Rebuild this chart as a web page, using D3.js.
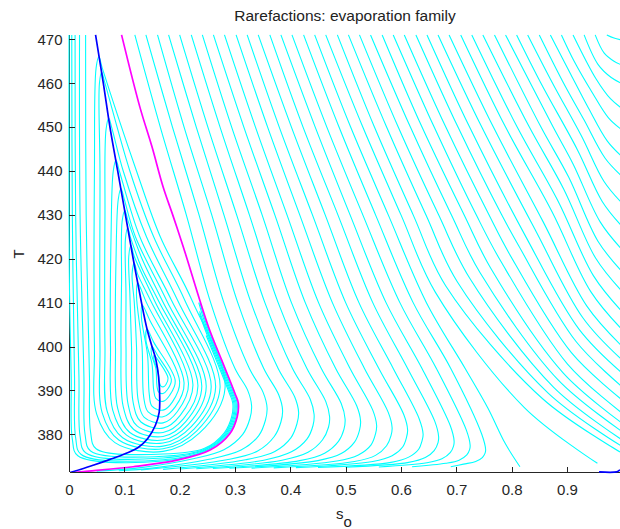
<!DOCTYPE html>
<html>
<head>
<meta charset="utf-8">
<script src="https://d3js.org/d3.v7.min.js"></script>
<style>
  body { margin: 0; background: #fff; }
  svg { display: block; font-family: "Liberation Sans", Arial, sans-serif; }
</style>
</head>
<body>
<svg id="chart" width="620" height="529"></svg>
<script>
// ticks
var xTicks = [0, 0.1, 0.2, 0.3, 0.4, 0.5, 0.6, 0.7, 0.8, 0.9];
var yTicks = [380, 390, 400, 410, 420, 430, 440, 450, 460, 470];

// [s_o, T] points
var magentaCurve = [[0.095,471],[0.128,454.6],[0.150,445.5],[0.170,436.4],[0.1885,429.6],[0.2066,422.7],[0.214,419.7],
  [0.252,404.5],[0.276,396.9],[0.300,389.3],[0.306,387.1],[0.304,384.0],[0.291,380.2],[0.255,376.4],[0.195,374.1],
  [0.116,372.6],[0.026,371.5],[0.002,371.2]];

var blueCurve = [[0.048,471],[0.062,460],[0.074,450],[0.088,440],[0.102,430],[0.116,420],[0.131,410],[0.141,404],
  [0.150,400],[0.157,397],[0.162,393],[0.164,388],[0.163,385],[0.156,382],[0.142,379],[0.125,377],[0.110,376],
  [0.090,375],[0.068,374],[0.045,373],[0.026,372.2],[0.002,371.3]];
var blueTail = [[0.958,371.42],[0.99,371.45],[0.995,371.8],[1.0,372.0]];

// outer curves inside the magenta one (left legs reach the top)
var openCurves = [
  [[0.0,471],[0.0,430],[0.001,412],[0.004,393],[0.006,378.9],[0.016,375.1],[0.17,373.9],[0.253,376.48],[0.289,380.24],[0.302,384.0],[0.304,387.1],[0.298,389.3],[0.274,396.9],[0.250,404.5],[0.2365,410]],
  [[0.005,471],[0.006,430],[0.010,393],[0.012,379.2],[0.022,375.4],[0.17,374.2],[0.251,376.56],[0.287,380.28],[0.300,384.0],[0.302,387.1],[0.296,389.3],[0.272,396.9],[0.248,404.5],[0.2345,410]],
  [[0.011,471],[0.012,430],[0.018,393],[0.020,379.6],[0.030,375.8],[0.17,374.6],[0.249,376.64],[0.285,380.32],[0.298,384.0],[0.300,387.1],[0.294,389.3],[0.270,396.9],[0.246,404.5],[0.236,408]],
  [[0.019,471],[0.020,430],[0.027,393],[0.029,380.0],[0.039,376.2],[0.17,375.0],[0.247,376.72],[0.283,380.36],[0.296,384.0],[0.298,387.1],[0.292,389.3],[0.268,396.9],[0.244,404.5],[0.236,407.5]],
  [[0.030,471],[0.031,430],[0.037,393],[0.039,380.5],[0.049,376.7],[0.17,375.5],[0.245,376.8],[0.281,380.4],[0.294,384.0],[0.296,387.1],[0.290,389.3],[0.266,396.9],[0.248,402.5]]
];

// nested loops, apex on the blue curve
var loopCurves = [
  [[0.054,466],[0.060,463.5],[0.122,440],[0.165,425],[0.222,410.6],[0.282,390.5],[0.236,380.3],[0.17,376.1],[0.083,378.1],[0.050,384.6],[0.046,400],[0.046,440],[0.049,463.5]],
  [[0.059,462.5],[0.065,460],[0.110,440],[0.153,425],[0.209,410.6],[0.273,390.6],[0.231,380.8],[0.17,376.7],[0.090,378.7],[0.060,384.9],[0.056,400],[0.056,440],[0.055,460]],
  [[0.072,452],[0.078,449.5],[0.098,440],[0.140,425],[0.196,410.6],[0.265,390.7],[0.226,381.2],[0.17,377.3],[0.097,379.2],[0.069,385.2],[0.065,400],[0.065,430],[0.067,449.5]],
  [[0.085,442.5],[0.091,440],[0.128,425],[0.185,410.6],[0.257,390.8],[0.221,381.75],[0.17,378.0],[0.104,379.8],[0.079,385.5],[0.075,400],[0.076,425],[0.080,440]],
  [[0.094,436],[0.100,433.5],[0.120,425],[0.176,410.6],[0.248,390.9],[0.216,382.3],[0.17,378.7],[0.110,380.4],[0.088,385.9],[0.084,400],[0.085,420],[0.089,433.5]],
  [[0.101,431],[0.107,428.5],[0.132,420],[0.168,410.6],[0.240,391.0],[0.211,382.9],[0.17,379.5],[0.117,381.1],[0.098,386.3],[0.094,400],[0.095,415],[0.096,428.5]],
  [[0.106,427],[0.112,424.5],[0.131,418],[0.161,410.6],[0.233,391.1],[0.207,383.55],[0.17,380.4],[0.123,381.9],[0.107,386.7],[0.103,400],[0.103,412],[0.102,424.5]],
  [[0.112,423],[0.118,420.5],[0.154,410.6],[0.224,391.3],[0.201,384.3],[0.17,381.4],[0.130,382.8],[0.116,387.2],[0.113,400],[0.110,412],[0.108,420.5]],
  [[0.118,419],[0.124,416.5],[0.147,410.6],[0.216,391.5],[0.196,385.2],[0.17,382.6],[0.136,383.85],[0.125,387.8],[0.122,400],[0.118,410],[0.114,416.5]],
  [[0.124,414.5],[0.140,410],[0.208,391.7],[0.192,386.25],[0.17,384.0],[0.143,385.1],[0.135,388.5],[0.132,400],[0.122,411.5]],
  [[0.132,409.5],[0.146,406],[0.200,391.9],[0.187,387.4],[0.17,385.5],[0.150,386.4],[0.145,389.2],[0.142,398],[0.131,406.5]],
  [[0.141,404],[0.153,401],[0.192,392.2],[0.182,388.9],[0.17,387.5],[0.157,388.2],[0.153,390.2],[0.150,396],[0.139,401.5]],
  [[0.150,400],[0.160,398],[0.185,392.5],[0.178,390.2],[0.17,389.3],[0.162,389.6],[0.159,391],[0.157,395],[0.149,398.3]],
  [[0.154,398],[0.163,396.5],[0.179,392.8],[0.175,391.3],[0.17,390.8],[0.166,391.0],[0.163,392],[0.161,394.5],[0.154,396.7]]
];

// curves from the top that turn back left along the bottom
var fanCurves = [
  [[0.119,471],[0.165,450],[0.212,430],[0.256,410],[0.300,395],[0.323,390],[0.330,386.5],[0.327,383.6],[0.314,380.0],[0.280,376.5],[0.220,374.3],[0.13,372.4],[0.05,371.6]],
  [[0.139,471],[0.187,450],[0.235,430],[0.280,410],[0.326,395],[0.351,389.5],[0.358,386.0],[0.355,383.2],[0.343,379.7],[0.311,376.4],[0.253,374.3],[0.15,372.3],[0.09,371.7]],
  [[0.160,471],[0.208,450],[0.258,430],[0.305,410],[0.352,395],[0.379,389],[0.386,385.5],[0.383,382.8],[0.371,379.5],[0.341,376.2],[0.285,374.2],[0.13,371.9]],
  [[0.180,471],[0.230,450],[0.280,430],[0.329,410],[0.378,395],[0.408,388.5],[0.415,385.0],[0.412,382.4],[0.401,379.2],[0.372,376.1],[0.319,374.2],[0.17,372.0]],
  [[0.200,471],[0.251,450],[0.303,430],[0.354,410],[0.404,395],[0.436,388],[0.443,384.5],[0.441,382.0],[0.430,378.9],[0.402,376.0],[0.352,374.1],[0.20,372.1]],
  [[0.221,471],[0.273,450],[0.326,430],[0.378,410],[0.430,395],[0.464,387.5],[0.471,384.0],[0.469,381.6],[0.458,378.7],[0.432,375.9],[0.385,374.1],[0.23,372.15]],
  [[0.241,471],[0.294,450],[0.349,430],[0.402,410],[0.456,395],[0.492,387],[0.499,383.5],[0.497,381.2],[0.487,378.4],[0.462,375.7],[0.417,374.0],[0.26,372.2]],
  [[0.261,471],[0.316,450],[0.372,430],[0.427,410],[0.482,395],[0.520,386.5],[0.527,383.0],[0.525,380.9],[0.516,378.2],[0.492,375.6],[0.450,374.0],[0.29,372.25]],
  [[0.281,471],[0.337,450],[0.394,430],[0.451,410],[0.508,395],[0.549,385.5],[0.556,382.0],[0.554,380.1],[0.546,377.6],[0.523,375.3],[0.484,373.9],[0.33,372.3]],
  [[0.302,471],[0.359,450],[0.417,430],[0.476,410],[0.534,395],[0.577,385],[0.584,381.5],[0.582,379.7],[0.574,377.4],[0.554,375.2],[0.516,373.8],[0.37,372.35]],
  [[0.322,471],[0.380,450],[0.440,430],[0.500,410],[0.560,395],[0.605,384.5],[0.612,381.0],[0.610,379.3],[0.603,377.1],[0.584,375.1],[0.549,373.8],[0.41,372.4]],
  [[0.342,471],[0.402,450],[0.463,430],[0.524,410],[0.586,395],[0.633,383.5],[0.640,380.0],[0.638,378.5],[0.632,376.6],[0.614,374.8],[0.582,373.6],[0.45,372.45]],
  [[0.363,471],[0.423,450],[0.486,430],[0.549,410],[0.612,395],[0.661,383],[0.668,379.5],[0.667,378.1],[0.660,376.3],[0.644,374.7],[0.614,373.6],[0.50,372.5]],
  [[0.383,471],[0.445,450],[0.508,430],[0.573,410],[0.638,395],[0.689,382],[0.696,378.5],[0.695,377.3],[0.689,375.8],[0.674,374.4],[0.647,373.5],[0.56,372.55]],
  [[0.403,471],[0.466,450],[0.531,430],[0.598,410],[0.664,395],[0.718,381],[0.725,377.5],[0.724,376.5],[0.719,375.3],[0.705,374.1],[0.681,373.4],[0.62,372.6]],
  [[0.424,471],[0.488,450],[0.554,430],[0.622,410],[0.690,395],[0.746,380],[0.753,376.5],[0.752,375.7],[0.747,374.7],[0.735,373.8],[0.713,373.2],[0.69,372.6]]
];

var separatrix = [[0.444,471],[0.509,450],[0.577,430],[0.646,410],[0.716,395],[0.757,386],[0.788,378],[0.815,372.6]];

// curves from the top that bend to the right edge
var exitCurves = [
  [[0.464,471],[0.531,450],[0.600,430],[0.662,412.4],[0.823,386.1],[0.955,373.4]],
  [[0.485,471],[0.552,450],[0.622,430],[0.681,413.8],[0.856,388.1],[1.0,375.7]],
  [[0.505,471],[0.574,450],[0.645,430],[0.702,414.7],[0.866,389.4],[1.0,377.2]],
  [[0.525,471],[0.595,450],[0.668,430],[0.724,415.6],[0.876,390.7],[1.0,378.7]],
  [[0.545,471],[0.617,450],[0.691,430],[0.743,416.8],[0.884,392.4],[1.0,380.6]],
  [[0.566,471],[0.638,450],[0.714,430],[0.762,417.9],[0.893,394.0],[1.0,382.5]],
  [[0.586,471],[0.660,450],[0.736,430],[0.781,419.3],[0.901,396.0],[1.0,384.8]],
  [[0.606,471],[0.681,450],[0.759,430],[0.796,421.1],[0.908,398.6],[1.0,387.8]],
  [[0.627,471],[0.703,450],[0.782,430],[0.813,422.9],[0.916,401.2],[1.0,390.8]],
  [[0.647,471],[0.724,450],[0.827,424.7],[0.922,403.9],[1.0,393.9]],
  [[0.667,471],[0.746,450],[0.843,426.5],[0.929,406.5],[1.0,396.9]],
  [[0.687,471],[0.767,450],[0.857,428.4],[0.936,409.2],[1.0,400.0]],
  [[0.708,471],[0.789,450],[0.873,430.7],[0.943,412.5],[1.0,403.8]],
  [[0.728,471],[0.810,450],[0.884,433.1],[0.948,416.1],[1.0,407.9]],
  [[0.748,471],[0.832,450],[0.894,435.9],[0.952,420.1],[1.0,412.5]],
  [[0.769,471],[0.853,450],[0.903,438.6],[0.956,424.0],[1.0,417.0]],
  [[0.789,471],[0.875,450],[0.911,441.6],[0.960,428.4],[1.0,422.0]],
  [[0.809,471],[0.853,460],[0.919,444.8],[0.964,433.0],[1.0,427.3]],
  [[0.829,471],[0.874,460],[0.926,448.0],[0.967,437.6],[1.0,432.6]],
  [[0.850,471],[0.894,460],[0.931,451.6],[0.969,442.9],[1.0,438.7]],
  [[0.870,471],[0.907,462],[0.939,454.3],[0.973,446.8],[1.0,443.2]],
  [[0.890,471],[0.913,465],[0.945,458.0],[0.975,452.1],[1.0,449.3]],
  [[0.911,471],[0.953,460.9],[0.979,456.4],[1.0,454.2]],
  [[0.931,471],[0.956,464.3],[0.980,461.3],[1.0,459.9]],
  [[0.951,471],[0.967,466.9],[0.985,465.0],[1.0,464.1]],
  [[0.972,471],[0.985,470.3],[1.0,469.8]]
];

var svg = d3.select('#chart');
var x = d3.scaleLinear().domain([0, 1]).range([69, 622.3]);
var y = d3.scaleLinear().domain([371.34, 470.98]).range([472.3, 35]);
var axisColor = '#262626';

svg.append('defs').append('clipPath').attr('id', 'plotclip')
  .append('rect').attr('x', 68).attr('y', 34).attr('width', 560).attr('height', 438.3);

// left axis line goes under the curves
svg.append('line')
  .attr('x1', x(0)).attr('x2', x(0)).attr('y1', y.range()[1]).attr('y2', y.range()[0])
  .attr('stroke', axisColor).attr('shape-rendering', 'crispEdges');

var line = d3.line()
  .x(function(d) { return x(d[0]); })
  .y(function(d) { return y(d[1]); })
  .curve(d3.curveCatmullRom.alpha(0.5));
var loopLine = d3.line()
  .x(function(d) { return x(d[0]); })
  .y(function(d) { return y(d[1]); })
  .curve(d3.curveCatmullRomClosed.alpha(0.5));

var plot = svg.append('g').attr('clip-path', 'url(#plotclip)');

plot.selectAll('path.cyan')
  .data(openCurves.concat(fanCurves, [separatrix], exitCurves))
  .enter().append('path')
  .attr('class', 'cyan')
  .attr('d', line)
  .attr('fill', 'none')
  .attr('stroke', '#00ffff')
  .attr('stroke-width', 1.1);

plot.selectAll('path.loop')
  .data(loopCurves)
  .enter().append('path')
  .attr('class', 'loop')
  .attr('d', loopLine)
  .attr('fill', 'none')
  .attr('stroke', '#00ffff')
  .attr('stroke-width', 1.1);

// axes (inward ticks, MATLAB style)
var xAxis = d3.axisBottom(x).tickValues(xTicks).tickSizeInner(-5.5).tickSizeOuter(0).tickPadding(12)
  .tickFormat(function(d) { return d === 0 ? '0' : d3.format('.1f')(d); });
var yAxis = d3.axisLeft(y).tickValues(yTicks).tickSizeInner(-5.5).tickSizeOuter(0).tickPadding(6.5)
  .tickFormat(d3.format('d'));

var gx = svg.append('g').attr('transform', 'translate(0,' + y.range()[0] + ')').call(xAxis);
var gy = svg.append('g').attr('transform', 'translate(' + x(0) + ',0)').call(yAxis);
gy.select('.domain').remove();
[gx, gy].forEach(function(g) {
  g.attr('font-size', 15).attr('font-family', '"Liberation Sans", Arial, sans-serif')
    .style('color', axisColor);
  g.selectAll('path, line').attr('shape-rendering', 'crispEdges');
});

// highlighted curves on top
plot.append('path').datum(magentaCurve).attr('d', line)
  .attr('fill', 'none').attr('stroke', '#ff00ff').attr('stroke-width', 1.7);
plot.append('path').datum(blueCurve).attr('d', line)
  .attr('fill', 'none').attr('stroke', '#0000ff').attr('stroke-width', 1.7);
svg.append('path').datum(blueTail).attr('d', line)
  .attr('fill', 'none').attr('stroke', '#0000ff').attr('stroke-width', 1.7);

// labels
svg.append('text').attr('x', 345).attr('y', 21).attr('text-anchor', 'middle')
  .attr('font-size', 15.5).attr('fill', '#222').text('Rarefactions: evaporation family');

var xl = svg.append('text').attr('x', 344).attr('y', 518.5).attr('text-anchor', 'middle')
  .attr('font-size', 15).attr('fill', '#222');
xl.append('tspan').text('s');
xl.append('tspan').attr('dy', 8).text('o');

svg.append('text').attr('transform', 'translate(24,254) rotate(-90)').attr('text-anchor', 'middle')
  .attr('font-size', 15).attr('fill', '#222').text('T');
</script>
</body>
</html>
